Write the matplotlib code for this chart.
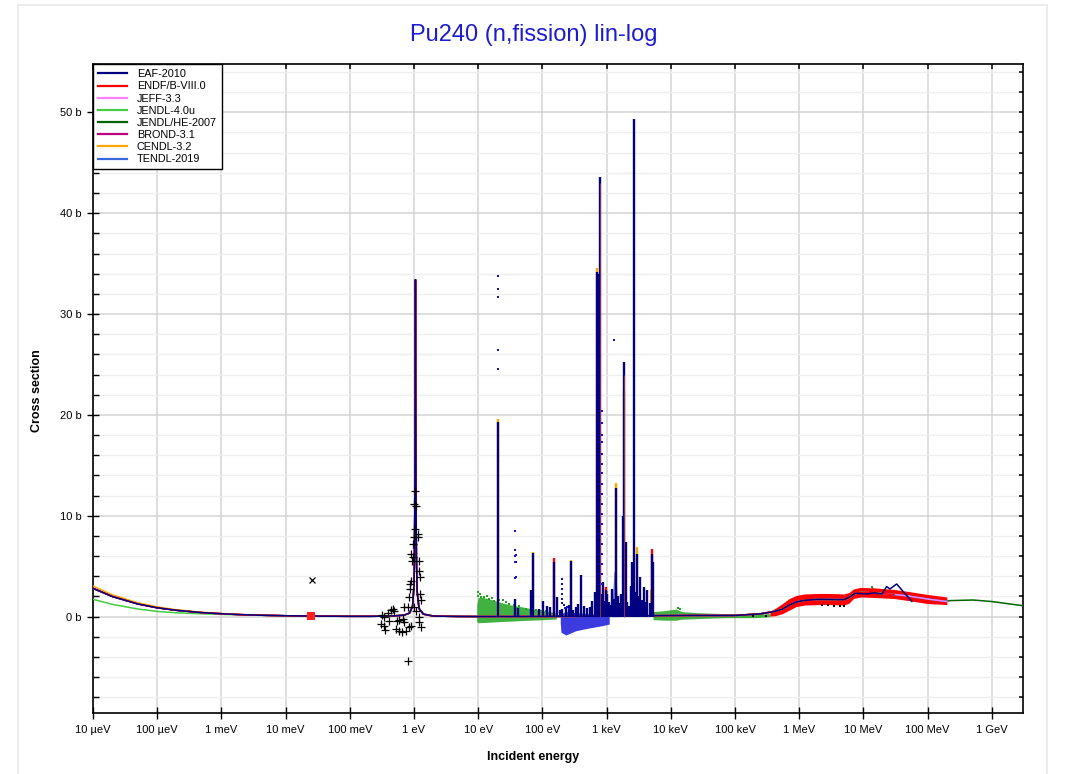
import numpy as np
import matplotlib.pyplot as plt
from matplotlib.patches import Rectangle
from matplotlib.lines import Line2D
from matplotlib.ticker import FixedLocator, MultipleLocator, NullLocator, NullFormatter

plt.rcParams['font.family'] = ['Liberation Sans', 'DejaVu Sans']

# ---- values (energy in eV, cross section in b)
libraries = ['EAF-2010', 'ENDF/B-VIII.0', 'JEFF-3.3', 'JENDL-4.0u',
             'JENDL/HE-2007', 'BROND-3.1', 'CENDL-3.2', 'TENDL-2019']
lib_colors = ['#000080', '#ff0000', '#ff80ff', '#44cc44',
              '#006400', '#c0007f', '#ffa500', '#3a66dd']

# thermal 1/v part
e_thermal = [1e-5, 2e-5, 5e-5, 1e-4, 2e-4, 5e-4, 1e-3, 2e-3, 5e-3, 1e-2]
xs_thermal = [2.81, 2.0, 1.26, 0.88, 0.63, 0.40, 0.29, 0.20, 0.13, 0.09]
xs_thermal_cendl = [3.04, 2.17, 1.37, 0.97, 0.68, 0.43, 0.31, 0.21, 0.13, 0.09]
xs_thermal_jendl = [1.72, 1.22, 0.76, 0.52, 0.38, 0.28, 0.23, 0.17, 0.12, 0.09]

# 1.056 eV resonance and resolved region baseline
e_res = [2.53e-2, 5e-2, 0.1, 0.2, 0.3, 0.5, 0.7, 0.85, 0.95, 1.0, 1.02, 1.035,
         1.045, 1.054, 1.063, 1.075, 1.09, 1.12, 1.2, 1.4, 2, 5, 10, 100, 1e3, 6e3]
xs_res = [0.06, 0.045, 0.035, 0.035, 0.045, 0.08, 0.15, 0.35, 1.0, 3.0, 6.5, 13,
          24, 33.4, 24, 12, 6, 2.5, 0.8, 0.25, 0.06, 0.02, 0.01, 0.02, 0.05, 0.1]

# continuum / fission threshold
e_cont = [2e4, 1e5, 2.5e5, 4e5, 5.5e5, 7e5, 9e5, 1.2e6, 2e6, 5e6, 6e6, 7e6, 9e6, 1.5e7, 2e7]
xs_cont = [0.12, 0.12, 0.28, 0.5, 0.75, 1.15, 1.45, 1.62, 1.72, 1.68, 1.85, 2.25, 2.4, 2.35, 2.28]
e_tail = [3e7, 5e7, 1e8, 2e8]
xs_tail = [2.2, 2.05, 1.75, 1.5]
e_eaf_tail = [5e6, 6.3e6, 7.5e6, 1.1e7, 1.5e7, 1.95e7, 2.3e7, 2.6e7, 3.3e7, 4.5e7, 5.7e7]
xs_eaf_tail = [1.68, 2.0, 2.32, 2.25, 2.35, 2.25, 2.98, 2.75, 3.24, 2.25, 1.52]
e_he_tail = [2.2e8, 5.1e8, 1e9, 3.1e9]
xs_he_tail = [1.59, 1.65, 1.5, 1.08]

# resonance spikes (EAF-2010 on top)
spike_e = [20.1, 37.4, 41.5, 65.6, 71.3, 89.5, 100.7, 118, 131, 151, 166, 185, 199,
           235, 258, 278, 305, 335, 365, 398, 440, 490, 560, 600, 657, 700, 722,
           745, 770, 787, 830, 865, 915, 973, 1032, 1090, 1150, 1236, 1300, 1393,
           1460, 1530, 1600, 1667, 1720, 1780, 1880, 1990, 2100, 2250, 2400, 2530,
           2680, 2850, 3029, 3180, 3289, 3600, 3890, 4100, 4325, 4700, 5060, 5300]
spike_xs = [19.3, 1.75, 0.9, 2.64, 6.3, 0.76, 1.59, 1.09, 0.92, 5.4, 1.98, 0.7, 0.8,
            0.9, 1.2, 5.5, 0.7, 1.0, 1.3, 4.16, 1.1, 0.9, 1.0, 1.6, 2.41, 1.5, 34.2,
            34.0, 33.5, 43.6, 2.2, 3.4, 1.6, 2.6, 2.25, 1.5, 1.2, 2.74, 1.8, 12.8,
            1.6, 2.0, 1.4, 2.25, 1.4, 10.0, 25.2, 7.4, 1.5, 1.1, 3.0, 5.4, 49.3,
            2.4, 6.2, 2.0, 3.9, 1.7, 2.9, 1.5, 2.6, 1.4, 6.2, 5.4]
cendl_tip_e = [20.1, 71.3, 278, 722, 1032, 1393, 1900, 3029, 4900]
cendl_tip_xs = [19.6, 6.45, 5.6, 34.6, 2.5, 13.3, 22.4, 6.9, 2.6]
endf_tip_e = [151, 973, 5060]
endf_tip_xs = [5.82, 2.9, 6.7]
endf_inner_e = [787, 1880]
endf_inner_xs = [43.0, 24.0]

# EXFOR: black + markers around the 1 eV resonance
exp_plus_e = [0.320, 0.347, 0.392, 0.441, 0.468, 0.497, 0.309, 0.339, 0.356, 0.406,
              0.540, 0.594, 0.670, 0.711, 0.527, 0.594, 0.654, 0.755, 0.851, 0.903,
              0.802, 0.711, 0.802, 0.851, 0.871, 0.881, 0.892, 0.935, 0.914, 0.957,
              0.981, 1.016, 1.054, 1.005, 1.030, 1.079, 1.146, 1.159, 1.188, 1.216,
              1.246, 1.231, 1.291, 1.188, 1.216, 1.291, 1.016, 1.079]
exp_plus_xs = [0.17, -0.06, 0.33, 0.67, 0.76, 0.60, -0.72, -0.96, -1.32, -0.39,
               -0.39, -0.33, -0.23, -0.56, -1.22, -1.45, -1.55, -1.39, -1.06, -0.89,
               -4.36, 0.93, 0.93, 1.92, 2.75, 3.24, 3.57, 5.56, 6.22, 5.89,
               7.21, 7.87, 8.70, 11.18, 12.50, 11.01, 7.87, 8.20, 5.56, 4.57,
               3.90, 2.25, 1.66, -0.06, -0.56, -1.06, 0.93, 0.60]
exp_cross_e = [0.0255]
exp_cross_xs = [3.67]
exp_thermal_e = [0.0253]
exp_thermal_xs = [0.06]

# EXFOR: green clouds (upper/lower envelope) and loose green points
green_a_e = [9.5, 10, 12, 15, 20, 30, 50, 80, 120, 165]
green_a_hi = [1.2, 1.9, 1.9, 1.75, 1.5, 1.2, 0.95, 0.7, 0.55, 0.35]
green_a_lo = [-0.5, -0.6, -0.58, -0.55, -0.5, -0.45, -0.38, -0.33, -0.28, -0.23]
green_b_e = [5.3e3, 8e3, 1.2e4, 1.5e4, 2.5e4, 4e4, 7e4, 1.2e5, 2e5, 3.5e5]
green_b_hi = [0.5, 0.6, 0.75, 0.5, 0.4, 0.35, 0.3, 0.25, 0.25, 0.3]
green_b_lo = [-0.3, -0.35, -0.35, -0.25, -0.2, -0.15, -0.1, -0.1, -0.1, 0.0]
green_pts_e = [9.8, 10.1, 10.6, 11.2, 12.5, 13.5, 14.9, 16.2, 17.9, 21, 24, 27, 30.5,
               36, 43.7, 55.5, 66, 79, 95, 113, 1.37e7, 1.4e7, 7.5e6, 1.3e4, 1.4e4]
green_pts_xs = [2.41, 2.08, 2.2, 1.95, 1.92, 2.0, 1.75, 1.85, 1.59, 1.7, 1.65, 1.45, 1.26,
                1.2, 1.09, 0.76, 0.8, 0.66, 0.6, 0.53, 2.91, 2.75, 2.2, 0.85, 0.8]

# EXFOR: blue points
blue_neg_e = [190, 195, 232, 333, 536, 865, 1100]
blue_neg_hi = [0.1, 0.3, 0.5, 0.4, 0.3, 0.2, 0.1]
blue_neg_lo = [-0.6, -1.55, -1.82, -1.39, -1.12, -0.89, -0.73]
blue_light_e = [1230, 1300, 1400, 1480]
blue_light_hi = [1.5, 4.5, 4.3, 1.2]
blue_pts_e = [20.1, 20.1, 20.1, 20.1, 20.1, 37.4, 37.4, 37.4, 37.4, 37.4, 38.5, 38.5,
              38.5, 1310, 199, 199, 199, 199, 199, 205, 215, 225, 240, 260,
              850, 850, 850, 850, 850, 850, 850, 850, 850, 850, 850, 850, 850, 850,
              850, 850, 850, 850]
blue_pts_xs = [33.8, 32.5, 31.7, 26.4, 24.6, 8.5, 6.6, 6.05, 5.4, 3.8, 6.1, 5.4,
               3.9, 27.4, 3.74, 3.24, 2.74, 2.25, 1.75, 1.4, 1.2, 0.9, 1.0, 0.8,
               20.4, 19.2, 18.0, 17.3, 16.1, 15.1, 14.2, 13.2, 12.2, 11.2, 10.2, 9.2,
               8.2, 7.2, 6.2, 5.2, 4.2, 3.2]

# EXFOR: red band in fast region and black points
red_band_e = [3.5e5, 4.3e5, 5.5e5, 7e5, 9e5, 1.2e6, 2e6, 3e6, 5e6, 6e6, 7e6, 9e6, 1.5e7, 3e7, 5e7, 1e8, 2e8]
red_band_hi = [0.55, 0.85, 1.3, 1.8, 2.1, 2.25, 2.3, 2.3, 2.25, 2.4, 2.75, 2.9, 2.85, 2.7, 2.5, 2.2, 1.95]
red_band_lo = [0.05, 0.1, 0.3, 0.65, 1.0, 1.15, 1.2, 1.2, 1.15, 1.35, 1.8, 1.95, 1.9, 1.8, 1.6, 1.3, 1.2]
black_pts_e = [2.3e6, 2.8e6, 3.5e6, 4.3e6, 5.0e6, 3.0e5, 1.9e5]
black_pts_xs = [1.15, 1.12, 1.1, 1.08, 1.05, 0.02, 0.05]

xtick_pos = [1e-5, 1e-4, 1e-3, 1e-2, 1e-1, 1, 10, 100, 1e3, 1e4, 1e5, 1e6, 1e7, 1e8, 1e9]
xtick_lab = ['10 µeV', '100 µeV', '1 meV', '10 meV', '100 meV', '1 eV', '10 eV', '100 eV',
             '1 keV', '10 keV', '100 keV', '1 MeV', '10 MeV', '100 MeV', '1 GeV']
ytick_pos = [0, 10, 20, 30, 40, 50]
ytick_lab = ['0 b', '10 b', '20 b', '30 b', '40 b', '50 b']
right_tick_pos = [-8, -6, -4, -2, 0, 2, 4, 6, 8, 10, 12, 14, 16, 18, 20, 22, 24, 26,
                  28, 30, 32, 34, 36, 38, 40, 42, 44, 46, 48, 50, 52, 54]

# ---- per library curves
n9 = 9
series = {
    'EAF-2010': (e_thermal + e_res + e_cont[:n9] + e_eaf_tail,
                 xs_thermal + xs_res + xs_cont[:n9] + xs_eaf_tail),
    'ENDF/B-VIII.0': (e_thermal + e_res + e_cont + e_tail[:1], xs_thermal + xs_res + xs_cont + xs_tail[:1]),
    'JEFF-3.3': (e_thermal + e_res + e_cont + e_tail, xs_thermal + xs_res + xs_cont + xs_tail),
    'JENDL-4.0u': (e_thermal + e_res + e_cont, xs_thermal_jendl + xs_res + xs_cont),
    'JENDL/HE-2007': (e_thermal + e_res + e_cont + e_tail + e_he_tail,
                      xs_thermal + xs_res + xs_cont + xs_tail + xs_he_tail),
    'BROND-3.1': (e_thermal + e_res + e_cont, xs_thermal + xs_res + xs_cont),
    'CENDL-3.2': (e_thermal + e_res + e_cont, xs_thermal_cendl + xs_res + xs_cont),
    'TENDL-2019': (e_thermal + e_res + e_cont + e_tail, xs_thermal + xs_res + xs_cont + xs_tail),
}

fig = plt.figure(figsize=(10.67, 7.74), dpi=100)
fig.patches.append(Rectangle((18 / 1067, -0.02), 1029 / 1067, 1.02 - 5 / 774,
                             transform=fig.transFigure, fill=False,
                             edgecolor='#e9e9e9', lw=1.2))
ax = fig.add_axes([0.08716, 0.07817, 0.87188, 0.83876])

# experimental data underneath the evaluations
ax.fill_between(green_a_e, green_a_lo, green_a_hi, color='#1fa51f', lw=0, alpha=0.85, zorder=2)
ax.fill_between(green_b_e, green_b_lo, green_b_hi, color='#1fa51f', lw=0, alpha=0.85, zorder=2)
ax.plot(green_pts_e, green_pts_xs, 's', color='#1fa51f', ms=1.8, mew=0, zorder=2)
ax.fill_between(blue_neg_e, blue_neg_lo, blue_neg_hi, color='#2626dc', lw=0, alpha=0.9, zorder=2)
ax.fill_between(blue_light_e, 0, blue_light_hi, color='#5b6cf0', lw=0, zorder=2)
ax.plot(blue_pts_e, blue_pts_xs, 's', color='#1010e0', ms=2.0, mew=0, zorder=6)
ax.fill_between(red_band_e, red_band_lo, red_band_hi, color='#ff0000', lw=0, zorder=2)

# evaluated libraries, EAF-2010 drawn last
draw_order = ['JENDL/HE-2007', 'JENDL-4.0u', 'TENDL-2019', 'JEFF-3.3', 'BROND-3.1',
              'CENDL-3.2', 'ENDF/B-VIII.0', 'EAF-2010']
for name in draw_order:
    c = lib_colors[libraries.index(name)]
    e, xs = series[name]
    ax.plot(e, xs, color=c, lw=1.1, zorder=3)

ax.vlines(cendl_tip_e, 0, cendl_tip_xs, color='#ffa500', lw=1.7, zorder=4)
ax.vlines(endf_tip_e, 0, endf_tip_xs, color='#ff0000', lw=1.7, zorder=4)
ax.vlines(spike_e, 0, spike_xs, color='#000080', lw=1.7, zorder=5)
ax.vlines(endf_inner_e, 0, endf_inner_xs, color='#b0304a', lw=0.6, zorder=5)

ax.plot(exp_plus_e, exp_plus_xs, '+', color='black', ms=6, mew=0.9, zorder=7)
ax.plot(exp_cross_e, exp_cross_xs, 'x', color='black', ms=4, mew=0.9, zorder=7)
ax.plot(exp_thermal_e, exp_thermal_xs, 's', color='#ff2020', ms=5.5, mew=0, zorder=7)
ax.plot(black_pts_e, black_pts_xs, 's', color='black', ms=1.6, mew=0, zorder=3)

# axes
ax.set_xscale('log')
ax.set_xlim(1e-5, 3.1e9)
ax.set_ylim(-9.6, 54.76)
ax.xaxis.set_major_locator(FixedLocator(xtick_pos))
ax.xaxis.set_minor_locator(NullLocator())
ax.set_xticklabels(xtick_lab)
ax.yaxis.set_major_locator(FixedLocator(ytick_pos))
ax.set_yticklabels(ytick_lab)
ax.yaxis.set_minor_locator(MultipleLocator(2))
ax.tick_params(axis='both', which='major', direction='inout', length=8, width=1,
               labelsize=8, pad=4)
ax.tick_params(axis='y', which='minor', direction='in', length=4, width=1)
ax.grid(which='major', color='#d4d4d4', lw=1.1)
ax.grid(which='minor', axis='y', color='#efefef', lw=1.0)
ax.set_axisbelow(True)
for sp in ax.spines.values():
    sp.set_linewidth(1.2)

# inward ticks on top and right, drawn as short segments in axes coordinates
xt_top = ax.get_xaxis_transform()
ax.vlines(xtick_pos, 1.0, 0.992, transform=xt_top, color='black', lw=1.1,
          zorder=8, clip_on=False)
yt_right = ax.get_yaxis_transform()
ax.hlines(right_tick_pos, 1.0, 0.9955, transform=yt_right, color='black', lw=1.1,
          zorder=8, clip_on=False)

handles = [Line2D([], [], color=c, lw=1.6) for c in lib_colors]
leg = ax.legend(handles, libraries, loc='upper left', bbox_to_anchor=(0, 1),
                borderaxespad=0, fancybox=False, edgecolor='black', framealpha=1,
                fontsize=7.8, handlelength=2.7, handletextpad=0.9,
                labelspacing=0.2, borderpad=0.45)
leg.get_frame().set_linewidth(1.0)
leg.set_zorder(10)

fig.text(0.5, 1 - 35 / 774, 'Pu240 (n,fission) lin-log', ha='center', va='center',
         fontsize=17, color='#1c1cd0')
fig.text(0.5, 1 - 757 / 774, 'Incident energy', ha='center', va='center',
         fontsize=9, fontweight='bold')
fig.text(37 / 1067, 1 - 391 / 774, 'Cross section', ha='center', va='center',
         rotation=90, fontsize=9, fontweight='bold')

plt.savefig('out.png', dpi=100)
